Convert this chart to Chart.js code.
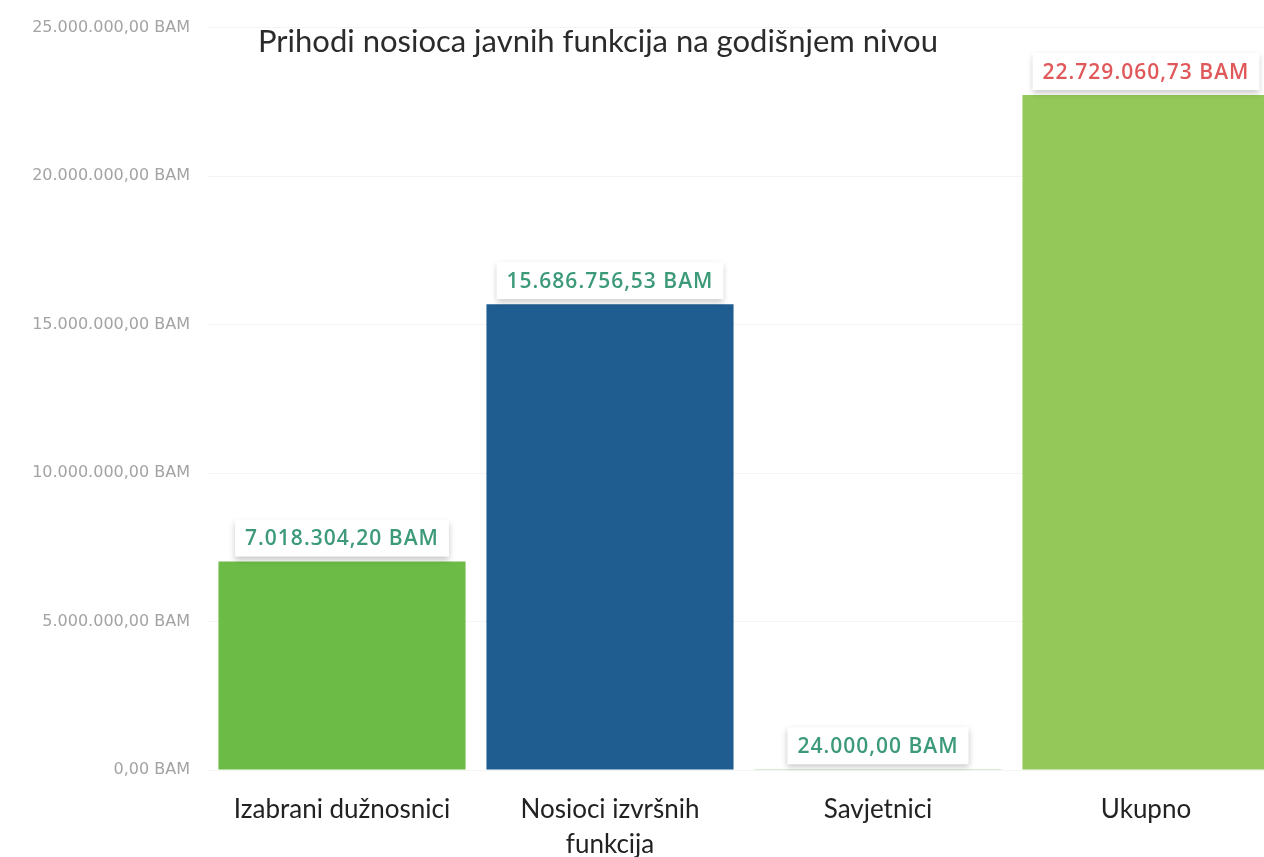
<!DOCTYPE html>
<html>
<head>
<meta charset="utf-8">
<script src="https://cdn.jsdelivr.net/npm/chart.js@4.4.1/dist/chart.umd.min.js"></script>
<style>
  html, body { margin: 0; padding: 0; background: #fff; overflow: hidden; }
  #wrap { position: relative; width: 1290px; height: 857px; }
  #title {
    position: absolute; left: 258px; top: 21px;
    font-family: Lato, "Open Sans", sans-serif; font-size: 31px; color: #2b2b2b;
    white-space: nowrap; z-index: 2;
  }
</style>
</head>
<body>
<div id="wrap">
  <div id="title">Prihodi nosioca javnih funkcija na godišnjem nivou</div>
  <canvas id="incomeChart" width="1290" height="857"></canvas>
</div>
<script>
const categories = [
  'Izabrani dužnosnici',
  ['Nosioci izvršnih', 'funkcija'],
  'Savjetnici',
  'Ukupno'
];
const incomeValues = [7018304.20, 15686756.53, 24000.00, 22729060.73];
const barColors = ['#6cbb47', '#1f5c90', '#6cbb47', '#94c858'];
const labelColors = ['#3c9a78', '#3c9a78', '#3c9a78', '#e0585a'];
const yTicks = [0, 5000000, 10000000, 15000000, 20000000, 25000000];

const fmt = v => v.toLocaleString('de-DE', { minimumFractionDigits: 2, maximumFractionDigits: 2 }) + ' BAM';

const valueBoxes = {
  id: 'valueBoxes',
  afterDatasetsDraw(chart) {
    const ctx = chart.ctx;
    const meta = chart.getDatasetMeta(0);
    ctx.save();
    ctx.font = '600 21px "Open Sans", sans-serif';
    ctx.letterSpacing = '1px';
    meta.data.forEach((bar, i) => {
      const text = fmt(incomeValues[i]);
      const w = ctx.measureText(text).width + 20;
      const h = 37;
      const x = bar.x - w / 2;
      const y = bar.y - 5 - h;
      ctx.shadowColor = 'rgba(0,0,0,0.22)';
      ctx.shadowBlur = 6;
      ctx.shadowOffsetY = 3;
      ctx.fillStyle = '#ffffff';
      ctx.fillRect(x, y, w, h);
      ctx.shadowColor = 'transparent';
      ctx.fillStyle = labelColors[i];
      ctx.textAlign = 'center';
      ctx.textBaseline = 'middle';
      ctx.fillText(text, bar.x, y + h / 2 + 1);
    });
    ctx.restore();
  }
};

new Chart(document.getElementById('incomeChart'), {
  type: 'bar',
  data: {
    labels: categories,
    datasets: [{
      data: incomeValues,
      backgroundColor: barColors,
      barPercentage: 0.922,
      categoryPercentage: 1
    }]
  },
  plugins: [valueBoxes],
  options: {
    responsive: false,
    animation: false,
    layout: { padding: { top: 18, right: 10, left: 0, bottom: 0 } },
    plugins: {
      legend: { display: false },
      tooltip: { enabled: false }
    },
    scales: {
      y: {
        min: 0,
        max: 25000000,
        afterBuildTicks: scale => { scale.ticks = yTicks.map(v => ({ value: v })); },
        afterFit: scale => { scale.width = 208; },
        ticks: {
          padding: 18,
          color: '#a3a3a3',
          font: { family: '"DejaVu Sans", sans-serif', size: 16 },
          callback: v => fmt(v)
        },
        grid: { color: '#f4f4f4', drawTicks: false },
        border: { display: false }
      },
      x: {
        afterFit: scale => { scale.height = 87; },
        ticks: {
          padding: 14,
          color: '#222',
          font: { family: 'Lato, sans-serif', size: 26, lineHeight: 1.35 }
        },
        grid: { display: false },
        border: { display: false }
      }
    }
  }
});
</script>
</body>
</html>
